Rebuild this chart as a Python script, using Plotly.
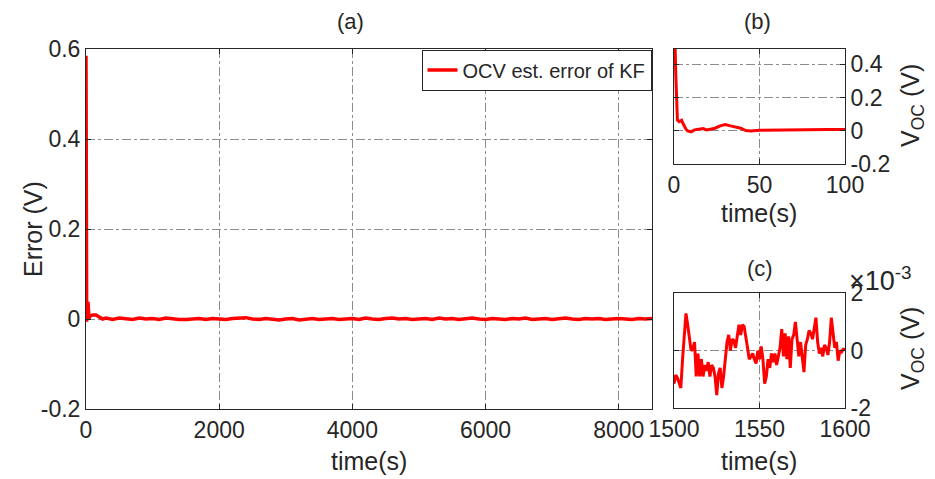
import plotly.graph_objects as go

# ---------------- data ----------------
# early part of the OCV estimation error (t <= 100 s)
t_early = [0, 0.5, 1, 1.5, 2, 3, 4, 4.5, 5, 6, 7, 8, 10, 12, 15, 17, 19, 21, 24,
           27, 30, 33, 36, 39, 42, 45, 50, 60, 70, 80, 90, 100]
err_early = [0.585, 0.585, 0.35, 0.12, 0.065, 0.055, 0.062, 0.063, 0.05, 0.025,
             0.01, 0.0, -0.006, 0.006, 0.01, 0.014, 0.006, 0.01, 0.016,
             0.03, 0.038, 0.03, 0.022, 0.016, 0.002, 0.0, 0.004, 0.006, 0.007,
             0.008, 0.008, 0.009]

t_late = [150, 200, 250, 300, 400, 500, 600, 700, 800, 900, 1000, 1100, 1200,
          1300, 1400, 1500, 1600, 1700, 1800, 1900, 2000, 2100, 2200, 2300,
          2400, 2500, 2600, 2700, 2800, 2900, 3000, 3100, 3200, 3300, 3400,
          3500, 3600, 3700, 3800, 3900, 4000, 4100, 4200, 4300, 4400, 4500,
          4600, 4700, 4800, 4900, 5000, 5100, 5200, 5300, 5400, 5500, 5600,
          5700, 5800, 5900, 6000, 6100, 6200, 6300, 6400, 6500, 6600, 6700,
          6800, 6900, 7000, 7100, 7200, 7300, 7400, 7500, 7600, 7700, 7800,
          7900, 8000, 8100, 8200, 8300, 8400, 8500]
err_late = [0.009, 0.004, 0.0, 0.002, -0.001, 0.002, 0.001, -0.001, 0.002,
            0.0, 0.001, -0.001, 0.002, 0.0, -0.001, -0.001, 0.0, 0.001, -0.001,
            0.001, 0.0, -0.001, 0.001, 0.002, 0.003, 0.0, -0.001, 0.001, 0.0,
            -0.002, 0.0, 0.001, -0.002, 0.0, 0.001, -0.001, 0.0, 0.001, -0.001,
            0.0, 0.001, -0.001, 0.002, 0.0, -0.001, 0.001, 0.002, 0.0, 0.001,
            -0.001, 0.0, 0.001, -0.001, 0.002, 0.0, 0.001, -0.001, 0.0, 0.002,
            0.0, -0.001, 0.001, 0.0, -0.001, 0.001, 0.0, 0.002, -0.001, 0.0,
            0.001, -0.001, 0.0, 0.002, 0.0, -0.001, 0.001, 0.0, 0.001, -0.001,
            0.0, 0.001, 0.0, -0.001, 0.001, 0.0, 0.001]

# zoomed window 1500-1600 s (values in units of 1e-3 V)
t_zoom = list(range(1500, 1601))
err_zoom_milli = [
    -1.15, -0.85, -0.95, -1.1, -1.3, -0.3, 0.6, 1.3, 0.9, 0.4,
    0.0, 0.05, 0.3, -0.9, -0.1, -0.9, -0.3, -0.9, -0.5, -0.7,
    -0.4, -0.9, -0.5, -0.6, -0.9, -1.55, -0.8, -0.6, -1.3, -0.9,
    -0.2, 0.3, 0.55, 0.0, 0.4, 0.35, 0.1, 0.5, 0.9, 0.55,
    0.9, 0.85, 0.4, 0.1, -0.3, -0.2, -0.1, -0.3, -0.45, 0.0,
    -0.3, 0.15, -0.3, -1.15, -0.9, -0.3, -0.6, -0.1, -0.4, -0.1,
    -0.5, -0.2, 0.1, 0.75, -0.2, 0.6, -0.3, 0.5, -0.6, 0.4,
    0.55, 1.0, 0.3, -0.2, 0.3, -0.2, -0.75, 0.2, 0.4, 0.7,
    0.6, 0.4, 0.8, 1.15, 0.3, -0.1, 0.1, -0.2, 0.2, 0.1,
    -0.15, 0.3, 1.15, 0.6, 0.1, 0.3, -0.35, 0.0, -0.05, 0.05,
    0.05]

# tick labels
a_xticks = [0, 2000, 4000, 6000, 8000]
a_yticks = [-0.2, 0, 0.2, 0.4, 0.6]
a_yticktext = ["-0.2", "0", "0.2", "0.4", "0.6"]
b_xticks = [0, 50, 100]
b_yticks = [-0.2, 0, 0.2, 0.4]
b_yticktext = ["-0.2", "0", "0.2", "0.4"]
c_xticks = [1500, 1550, 1600]
c_yticks = [-2, 0, 2]
c_yticktext = ["-2", "0", "2"]

legend_name = "OCV est. error of KF"

# ---------------- figure ----------------
W, H = 935, 479
OFF = 8  # page body margin offset
FONT = "Liberation Sans, Arial, Helvetica, sans-serif"
AX = "#262626"
GRID = "#8c8c8c"
RED = "#ff0000"


def fx(p):
    return (p - OFF) / W


def fy(p):
    return 1 - (p - OFF) / H


t_main = t_early + t_late
err_main = err_early + err_late

fig = go.Figure()
fig.add_trace(go.Scatter(x=t_main, y=err_main, mode="lines", name=legend_name,
                         line=dict(color=RED, width=3.5), xaxis="x", yaxis="y",
                         showlegend=True))
fig.add_trace(go.Scatter(x=t_early, y=err_early, mode="lines",
                         line=dict(color=RED, width=3), xaxis="x2", yaxis="y2",
                         showlegend=False))
fig.add_trace(go.Scatter(x=t_zoom, y=err_zoom_milli, mode="lines",
                         line=dict(color=RED, width=3), xaxis="x3", yaxis="y3",
                         showlegend=False))

tickfont = dict(family=FONT, size=23, color=AX)
TITLE_SIZE = 25


def xax(domain, rng, ticks, anchor):
    return dict(domain=domain, range=rng, tickvals=ticks,
                ticktext=[str(v) for v in ticks], anchor=anchor,
                automargin=False,
                showline=True, linecolor=AX, linewidth=1, mirror="ticks",
                ticks="inside", ticklen=5, tickcolor=AX,
                showgrid=True, gridcolor=GRID, gridwidth=1, griddash="dashdot",
                zeroline=False, tickfont=tickfont)


def yax(domain, rng, ticks, text, anchor, side):
    return dict(domain=domain, range=rng, tickvals=ticks, ticktext=text,
                anchor=anchor, side=side, automargin=False,
                showline=True, linecolor=AX, linewidth=1, mirror="ticks",
                ticks="inside", ticklen=5, tickcolor=AX,
                showgrid=True, gridcolor=GRID, gridwidth=1, griddash="dashdot",
                zeroline=False, tickfont=tickfont)


def label(text, x, y, size, angle=0, xanchor="center"):
    return dict(text=text, x=fx(x), y=fy(y), xref="paper", yref="paper",
                xanchor=xanchor, yanchor="middle", textangle=angle,
                showarrow=False, font=dict(family=FONT, size=size, color=AX))


fig.update_layout(
    width=W, height=H,
    margin=dict(l=0, r=0, t=0, b=0, autoexpand=False),
    paper_bgcolor="white", plot_bgcolor="white",
    font=dict(family=FONT, color=AX),
    xaxis=xax([fx(86), fx(652)], [0, 8500], a_xticks, "y"),
    yaxis=yax([fy(409), fy(49)], [-0.2, 0.6], a_yticks, a_yticktext, "x",
              "left"),
    xaxis2=xax([fx(674), fx(845)], [0, 100], b_xticks, "y2"),
    yaxis2=yax([fy(164.3), fy(49)], [-0.2, 0.49], b_yticks, b_yticktext, "x2",
               "right"),
    xaxis3=xax([fx(674), fx(845)], [1500, 1600], c_xticks, "y3"),
    yaxis3=yax([fy(408), fy(293.3)], [-2, 2], c_yticks, c_yticktext, "x3",
               "right"),
    legend=dict(x=fx(651.5), y=fy(49.5), xanchor="right", yanchor="top",
                bgcolor="white", bordercolor=AX, borderwidth=1,
                font=dict(family=FONT, size=20, color=AX),
                itemwidth=30, tracegroupgap=0),
    annotations=[
        label("(a)", 350, 22, 22),
        label("(b)", 757, 22, 22),
        label("(c)", 760, 268, 22),
        label("Error (V)", 33, 229, TITLE_SIZE, angle=-90),
        label("time(s)", 369, 461, TITLE_SIZE),
        label("time(s)", 759, 213, TITLE_SIZE),
        label("time(s)", 759, 461, TITLE_SIZE),
        label("V<sub>OC</sub> (V)", 912, 106, TITLE_SIZE, angle=-90),
        label("V<sub>OC</sub> (V)", 912, 349, TITLE_SIZE, angle=-90),
        label("×10<sup>-3</sup>", 847, 279, 27, xanchor="left"),
    ],
)

fig.write_html("out.html")
